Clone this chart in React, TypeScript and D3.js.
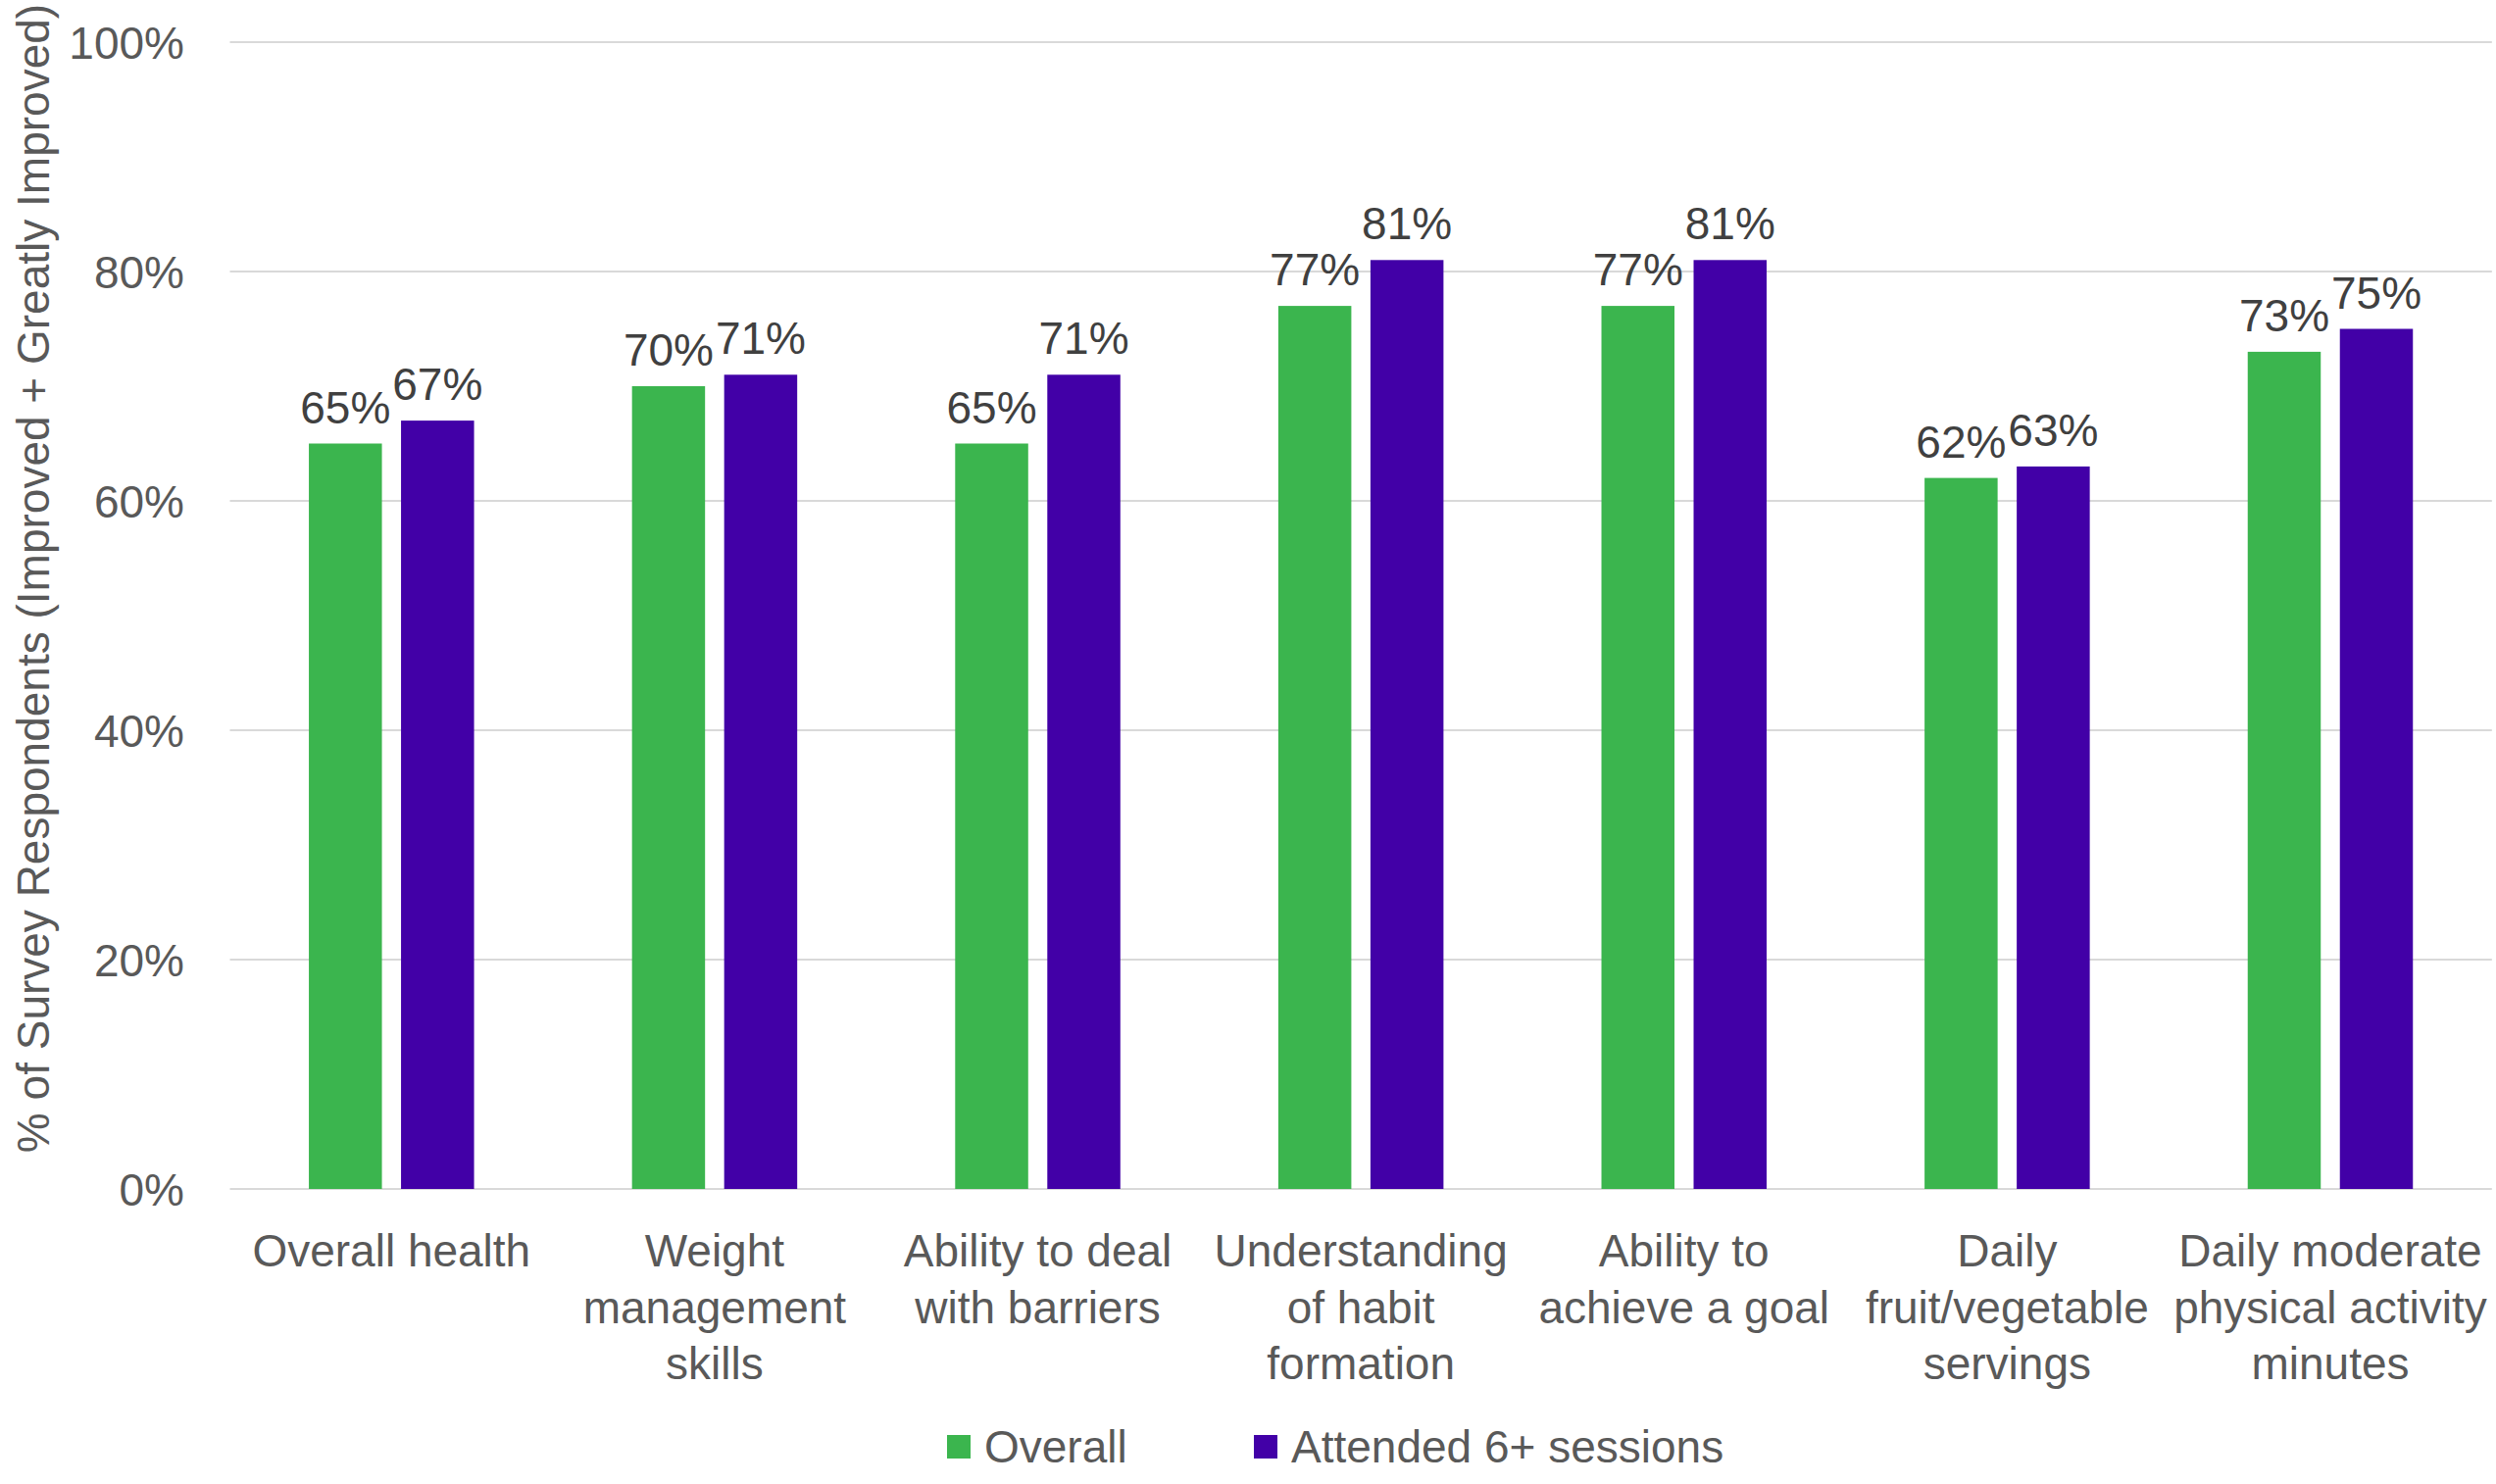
import React from "react";
import * as d3 from "d3";

const categories: string[][] = [
  ["Overall health"],
  ["Weight", "management", "skills"],
  ["Ability to deal", "with barriers"],
  ["Understanding", "of habit", "formation"],
  ["Ability to", "achieve a goal"],
  ["Daily", "fruit/vegetable", "servings"],
  ["Daily moderate", "physical activity", "minutes"],
];
const overall: number[] = [65, 70, 65, 77, 77, 62, 73];
const attended: number[] = [67, 71, 71, 81, 81, 63, 75];
const seriesNames: string[] = ["Overall", "Attended 6+ sessions"];
const seriesColors: string[] = ["#3BB54E", "#4200A7"];
const yTicks: number[] = [0, 20, 40, 60, 80, 100];
const yTitle = "% of Survey Respondents (Improved + Greatly Improved)";

const W = 2546;
const H = 1514;
const FONT = "'Liberation Sans', Arial, Helvetica, sans-serif";

export default function App() {
  const left = 234.5;
  const right = 2541.8;
  const top = 43;
  const bottom = 1213;

  const x = d3
    .scaleBand<number>()
    .domain(d3.range(categories.length))
    .range([left, right])
    .paddingInner(0)
    .paddingOuter(0);
  const y = d3.scaleLinear().domain([0, 100]).range([bottom, top]);

  const bw = 74.5;
  const gap = 19.5;
  const series = [overall, attended];

  return (
    <svg
      width={W}
      height={H}
      style={{ position: "absolute", left: 0, top: 0, background: "#fff" }}
      fontFamily={FONT}
    >
      {yTicks.map((t) => (
        <g key={t}>
          <line x1={left} x2={right} y1={y(t)} y2={y(t)} stroke="#D9D9D9" strokeWidth={2} />
          <text x={188} y={y(t) + 16.5} textAnchor="end" fontSize={46} fill="#595959">
            {t}%
          </text>
        </g>
      ))}
      <text
        transform={`translate(50, 590) rotate(-90)`}
        textAnchor="middle"
        fontSize={46}
        fill="#595959"
      >
        {yTitle}
      </text>
      {categories.map((c, i) => {
        const cx = (x(i) as number) + x.bandwidth() / 2;
        return (
          <g key={i}>
            {series.map((s, j) => {
              const bx = j === 0 ? cx - gap / 2 - bw : cx + gap / 2;
              const v = s[i];
              return (
                <g key={j}>
                  <rect x={bx} y={y(v)} width={bw} height={bottom - y(v)} fill={seriesColors[j]} />
                  <text
                    x={bx + bw / 2}
                    y={y(v) - 21}
                    textAnchor="middle"
                    fontSize={46}
                    fill="#404040"
                  >
                    {v}%
                  </text>
                </g>
              );
            })}
            {c.map((line, k) => (
              <text
                key={k}
                x={cx}
                y={1292 + k * 57.6}
                textAnchor="middle"
                fontSize={46}
                fill="#595959"
              >
                {line}
              </text>
            ))}
          </g>
        );
      })}
      {seriesNames.map((n, j) => {
        const lx = j === 0 ? 966 : 1279;
        return (
          <g key={n}>
            <rect x={lx} y={1464} width={24} height={24} fill={seriesColors[j]} />
            <text x={lx + 38} y={1492} fontSize={46} fill="#595959">
              {n}
            </text>
          </g>
        );
      })}
    </svg>
  );
}
